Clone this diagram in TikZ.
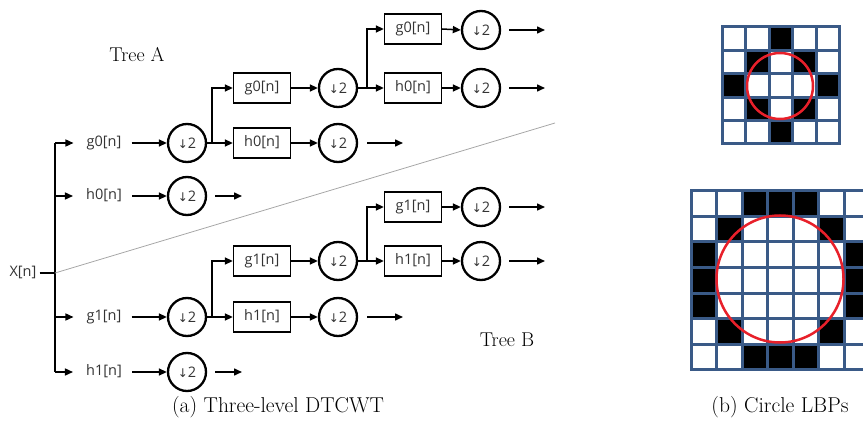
\documentclass[tikz,border=0pt]{standalone}
\usepackage{fontspec}
\setsansfont{Open Sans}
\newfontfamily\arrowfont{DejaVu Sans}
\usetikzlibrary{arrows.meta}
\definecolor{gridblue}{HTML}{3A5A87}
\definecolor{lbpred}{HTML}{E8202A}
\definecolor{txtgray}{HTML}{333333}
\begin{document}
\begin{tikzpicture}[x=1pt,y=-1pt,
  lbl/.style={font=\sffamily\fontsize{14.5}{16}\selectfont, text=txtgray, inner sep=0pt, text height=10.5pt, text depth=3pt},
  filt/.style={lbl, draw=black, line width=1.3pt, minimum width=57pt, minimum height=30pt},
  dn/.style={circle, draw, line width=2.3pt, minimum size=38pt, inner sep=0pt, text=txtgray, font=\sffamily\fontsize{14.5}{16}\selectfont},
  arr/.style={line width=1.5pt, -{Triangle[length=8pt,width=7pt]}},
  ln/.style={line width=1.5pt},
  treelbl/.style={font=\fontsize{20}{22}\selectfont},
  captext/.style={font=\fontsize{21.5}{24}\selectfont}
]
\useasboundingbox (0,0) rectangle (863,425);
\newcommand{\dtwo}{{\arrowfont\fontsize{12}{13}\selectfont ↓}2}

% input
\node[lbl] (X) at (23,273) {X[n]};
\coordinate (xj) at (55,273);
\coordinate (cA1g) at (55,143);
\coordinate (cA1h) at (55,196);
\coordinate (cB1g) at (55,317);
\coordinate (cB1h) at (55,372);
\draw[ln] ([xshift=3pt]X.east) -- (xj);
\draw[ln] (cA1g) -- (cB1h);
\coordinate (gEnd) at (555,123);
\draw[gray!70, line width=0.8pt] (xj) -- (gEnd);

% level 1 labels
\node[lbl, inner xsep=11pt] (lA1g) at (104,143) {g0[n]};
\node[lbl, inner xsep=11pt] (lA1h) at (104,196) {h0[n]};
\node[lbl, inner xsep=11pt] (lB1g) at (104,317) {g1[n]};
\node[lbl, inner xsep=11pt] (lB1h) at (104,372) {h1[n]};
\foreach \n in {A1g,A1h,B1g,B1h}{\draw[arr] (c\n) -- ([xshift=-2pt]l\n.west);}

% level 1 downsamplers
\node[dn] (dA1g) at (187,143) {\dtwo};
\node[dn] (dA1h) at (187,196) {\dtwo};
\node[dn] (dB1g) at (187,317) {\dtwo};
\node[dn] (dB1h) at (187,372) {\dtwo};
\foreach \n in {A1g,A1h,B1g,B1h}{\draw[arr] ([xshift=-1pt]l\n.east) -- (d\n.west);}
\coordinate (oA1h) at (242,196);
\coordinate (oB1h) at (242,372);
\draw[arr] ([xshift=8pt]dA1h.east) -- (oA1h);
\draw[arr] ([xshift=8pt]dB1h.east) -- (oB1h);

% level 2
\coordinate (sA1) at (212,143);
\coordinate (sB1) at (212,317);
\node[filt] (bA2g) at (262,88) {g0[n]};
\node[filt] (bA2h) at (262,143) {h0[n]};
\node[filt] (bB2g) at (262,261) {g1[n]};
\node[filt] (bB2h) at (262,317) {h1[n]};
\draw[ln] (dA1g.east) -- (sA1);
\draw[ln] (dB1g.east) -- (sB1);
\draw[arr] (sA1) |- (bA2g.west);
\draw[arr] (sA1) -- (bA2h.west);
\draw[arr] (sB1) |- (bB2g.west);
\draw[arr] (sB1) -- (bB2h.west);
\node[dn] (dA2g) at (338,88) {\dtwo};
\node[dn] (dA2h) at (338,143) {\dtwo};
\node[dn] (dB2g) at (338,261) {\dtwo};
\node[dn] (dB2h) at (338,317) {\dtwo};
\foreach \n in {A2g,A2h,B2g,B2h}{\draw[arr] (b\n.east) -- (d\n.west);}
\coordinate (oA2h) at (403,143);
\coordinate (oB2h) at (403,317);
\draw[arr] ([xshift=9pt]dA2h.east) -- (oA2h);
\draw[arr] ([xshift=9pt]dB2h.east) -- (oB2h);

% level 3
\coordinate (sA2) at (367,88);
\coordinate (sB2) at (367,261);
\node[filt] (bA3g) at (413,29) {g0[n]};
\node[filt] (bA3h) at (413,88) {h0[n]};
\node[filt] (bB3g) at (413,207) {g1[n]};
\node[filt] (bB3h) at (413,261) {h1[n]};
\draw[ln] (dA2g.east) -- (sA2);
\draw[ln] (dB2g.east) -- (sB2);
\draw[arr] (sA2) |- (bA3g.west);
\draw[arr] (sA2) -- (bA3h.west);
\draw[arr] (sB2) |- (bB3g.west);
\draw[arr] (sB2) -- (bB3h.west);
\node[dn] (dA3g) at (481,30) {\dtwo};
\node[dn] (dA3h) at (481,88) {\dtwo};
\node[dn] (dB3g) at (481,207) {\dtwo};
\node[dn] (dB3h) at (481,261) {\dtwo};
\foreach \n in {A3g,A3h,B3g,B3h}{\draw[arr] (b\n.east) -- (d\n.west);}
\coordinate (oA3g) at (545,30);
\coordinate (oA3h) at (545,88);
\coordinate (oB3g) at (545,207);
\coordinate (oB3h) at (545,261);
\foreach \n in {A3g,A3h,B3g,B3h}{\draw[arr] ([xshift=8pt]d\n.east) -- (o\n);}

% labels
\node[treelbl] (treeA) at (137,55) {Tree A};
\node[treelbl] (treeB) at (507,340) {Tree B};
\node[captext] (capA) at (278,407) {(a) Three-level DTCWT};
\node[captext] (capB) at (780,407) {(b) Circle LBPs};

% small LBP grid (5x5)
\foreach \r/\c in {0/2,1/1,1/3,2/0,2/4,3/1,3/3,4/2}
  \fill[black] (722.5+\c*23.4, 27+\r*23.4) rectangle ++(23.4,23.4);
\foreach \i in {0,...,5}{
  \draw[gridblue, line width=3pt, line cap=rect] (722.5+\i*23.4,27) -- ++(0,117);
  \draw[gridblue, line width=3pt, line cap=rect] (722.5,27+\i*23.4) -- ++(117,0);
}
\draw[lbpred, line width=2.5pt] (780,86) circle[radius=33];

% large LBP grid (7x7)
\foreach \r/\c in {0/2,0/3,0/4,1/1,1/5,2/0,2/6,3/0,3/6,4/0,4/6,5/1,5/5,6/2,6/3,6/4}
  \fill[black] (691+\c*25.5, 191+\r*25.5) rectangle ++(25.5,25.5);
\foreach \i in {0,...,7}{
  \draw[gridblue, line width=3pt, line cap=rect] (691+\i*25.5,191) -- ++(0,178.5);
  \draw[gridblue, line width=3pt, line cap=rect] (691,191+\i*25.5) -- ++(178.5,0);
}
\draw[lbpred, line width=2.5pt] (780,279) circle[radius=63.5];
\end{tikzpicture}
\end{document}
